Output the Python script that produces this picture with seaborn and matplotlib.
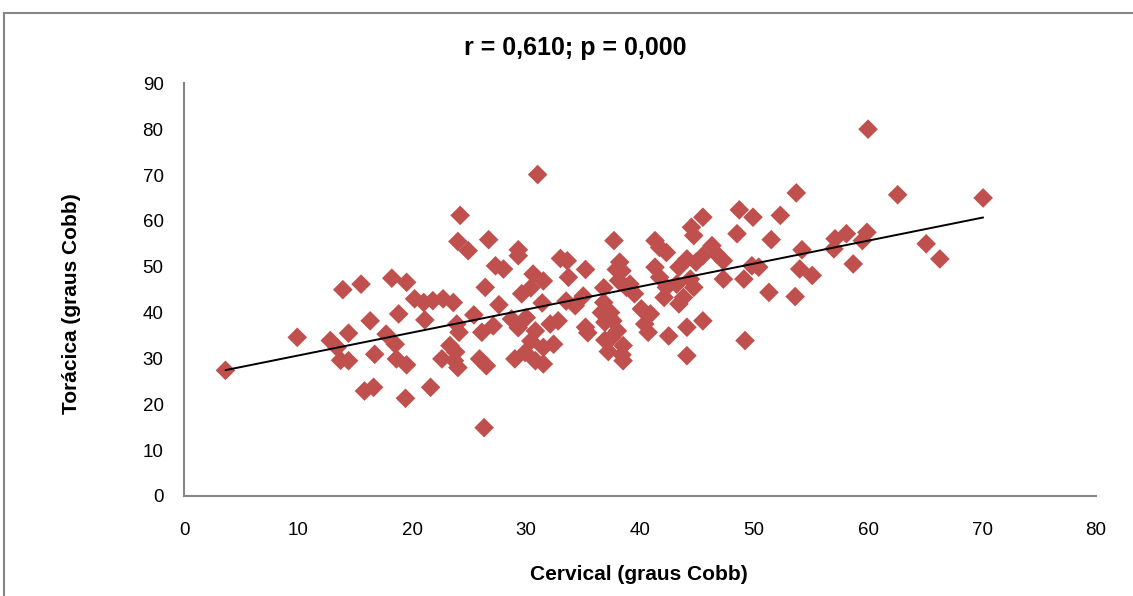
import seaborn as sns
import pandas as pd
import matplotlib.pyplot as plt
from matplotlib.lines import Line2D

# Cervical vs thoracic Cobb angles
cervical = [
    3.6, 9.9, 12.8, 13.4, 13.7, 14.4, 14.4, 13.9, 15.5, 15.8, 16.6, 16.3, 16.7,
    17.7, 18.2, 18.5, 18.6, 18.8, 19.4, 19.5, 19.5, 20.2, 21.0, 21.1, 21.6, 21.8,
    22.6, 22.7, 23.3, 23.6, 23.7, 23.9, 24.0, 24.0, 24.1, 24.2, 23.8,
    24.9, 25.4, 25.9, 26.1, 26.3, 26.4, 26.5, 26.7, 27.1, 27.3, 27.6, 28.0, 28.7,
    29.0, 29.3, 29.3, 29.3, 29.6, 29.9,
    30.0, 30.4, 30.4, 30.6, 30.8, 30.8, 31.0, 31.4, 31.5, 31.5, 31.5, 32.1, 32.4,
    32.8, 33.0, 33.6, 33.5, 33.7,
    34.3, 35.0, 35.2, 35.2, 35.4, 36.6, 36.8, 36.8, 36.9, 36.9, 37.2, 37.5, 37.4,
    37.6, 37.7, 37.9, 38.1, 38.2, 38.4, 38.5, 38.5, 38.8, 38.0, 38.4, 39.1,
    39.5, 40.1, 40.4, 40.7, 40.9, 41.3, 41.3, 41.7, 41.7, 42.1, 42.3, 42.3, 42.5,
    43.2, 43.4, 43.4, 43.8, 44.1, 44.1, 44.1, 44.4, 44.5, 44.7, 44.7, 44.9,
    45.5, 45.5, 45.5, 46.3, 46.7, 47.3, 47.3, 48.5, 48.7, 49.1, 49.2, 49.8, 49.9,
    50.4, 51.3, 51.5, 52.3, 53.6, 53.7, 54.0, 54.2, 55.1, 57.0, 57.1, 58.1, 58.7,
    59.5, 59.9, 60.0, 62.6, 65.1, 66.3, 70.1,
]
toracica = [
    27.4, 34.6, 33.9, 32.4, 29.6, 29.5, 35.5, 45.0, 46.2, 22.9, 23.7, 38.2, 30.9,
    35.3, 47.5, 33.1, 29.9, 39.7, 21.3, 46.6, 28.6, 43.0, 42.2, 38.4, 23.7, 42.6,
    29.9, 43.0, 32.8, 42.2, 29.5, 37.5, 28.0, 55.5, 35.7, 61.2, 31.4,
    53.5, 39.5, 29.9, 35.7, 14.9, 45.5, 28.4, 55.9, 37.1, 50.2, 41.7, 49.5, 38.6,
    29.9, 53.7, 52.4, 36.7, 44.1, 31.3,
    38.9, 45.4, 33.8, 48.4, 36.0, 29.5, 70.1, 42.1, 46.9, 32.4, 28.8, 37.5, 33.1,
    38.2, 51.8, 51.3, 42.5, 47.7,
    41.5, 43.6, 49.4, 36.8, 35.6, 40.0, 42.2, 45.4, 37.9, 34.0, 31.5, 34.6, 40.0,
    38.2, 55.7, 49.4, 47.0, 51.0, 49.1, 32.8, 29.5, 45.5, 36.0, 30.8, 46.2,
    44.1, 40.8, 37.5, 35.7, 39.7, 55.7, 49.9, 54.2, 47.7, 43.3, 53.1, 45.5, 34.9,
    46.2, 49.9, 41.9, 43.3, 51.7, 36.8, 30.6, 47.3, 58.6, 56.8, 45.5, 51.0,
    60.8, 52.4, 38.2, 54.6, 52.8, 51.3, 47.3, 57.2, 62.4, 47.3, 33.9, 50.2, 60.8,
    49.9, 44.4, 55.9, 61.2, 43.5, 66.1, 49.5, 53.7, 48.1, 53.9, 56.1, 57.2, 50.6,
    55.7, 57.5, 80.0, 65.7, 55.0, 51.7, 65.0,
]
x_ticks = [0, 10, 20, 30, 40, 50, 60, 70, 80]
y_ticks = [0, 10, 20, 30, 40, 50, 60, 70, 80, 90]

df = pd.DataFrame({'cervical': cervical, 'toracica': toracica})

sns.set_style('white')
plt.rcParams['font.family'] = ['Liberation Sans', 'DejaVu Sans']
plt.rcParams['text.color'] = 'black'
plt.rcParams['xtick.labelcolor'] = 'black'
plt.rcParams['ytick.labelcolor'] = 'black'
plt.rcParams['axes.labelcolor'] = 'black'

grey = '#868686'
fig = plt.figure(figsize=(11.33, 5.96), dpi=100)
ax = fig.add_axes([0.1628, 0.1678, 0.8045, 0.6924])

sns.scatterplot(data=df, x='cervical', y='toracica', marker='D', s=100,
                color='#C0504D', edgecolor='none', ax=ax, zorder=2)
sns.regplot(data=df, x='cervical', y='toracica', scatter=False, ci=None,
            line_kws={'color': 'black', 'lw': 1.4, 'zorder': 3}, ax=ax)

ax.set_xlim(0, 80)
ax.set_ylim(0, 90)
ax.set_xticks(x_ticks)
ax.set_yticks(y_ticks)
ax.tick_params(axis='both', direction='out', length=5, width=1.2, color=grey,
               labelsize=13.5, pad=14)
ax.tick_params(axis='y', pad=10)
for side in ['top', 'right']:
    ax.spines[side].set_visible(False)
for side in ['left', 'bottom']:
    ax.spines[side].set_color(grey)
    ax.spines[side].set_linewidth(1.5)

ax.set_xlabel('Cervical (graus Cobb)', fontsize=15, fontweight='bold', va='center')
ax.set_ylabel('Torácica (graus Cobb)', fontsize=15, fontweight='bold', va='center')
ax.xaxis.set_label_coords(0.4986, -0.191)
ax.yaxis.set_label_coords(-0.1234, 0.465)
fig.text(575 / 1133, 1 - 47.5 / 596, 'r = 0,610; p = 0,000', ha='center',
         va='center', fontsize=18, fontweight='bold')

# outer chart frame
fig.add_artist(Line2D([0.0035, 0.0035], [0, 0.978], color=grey, lw=1.5))
fig.add_artist(Line2D([0.0035, 1], [0.978, 0.978], color=grey, lw=1.5))

fig.savefig('out.png', dpi=100)
